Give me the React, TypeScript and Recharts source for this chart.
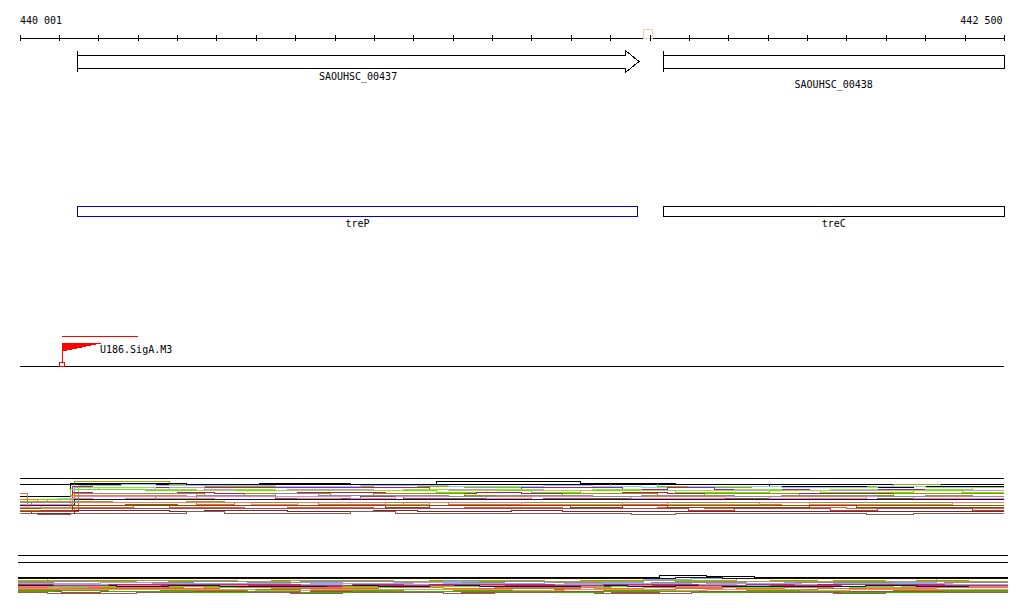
import React from 'react';
import { ComposedChart, XAxis, YAxis, Line, ReferenceLine, ReferenceArea, ReferenceDot } from 'recharts';

// ---------- view / ruler ----------
const VIEW_START = 440001;
const VIEW_END = 442500;
const rulerTicks = [
  440001, 440101, 440201, 440301, 440401, 440501, 440601, 440701, 440801, 440901,
  441001, 441101, 441201, 441301, 441401, 441501, 441601, 441701, 441801, 441901,
  442001, 442101, 442201, 442301, 442401, 442500,
];
const rulerLabels = [440001, 442500];
const cursorPositions = [441597];
const viewAnchors = [{ x: VIEW_START, a: 0 }, { x: VIEW_END, a: 1 }];

// ---------- annotation tracks ----------
const genes = [
  { name: 'SAOUHSC_00437', start: 440146, end: 441573, strand: '+', truncated: false, labelRow: 0 },
  { name: 'SAOUHSC_00438', start: 441635, end: 442500, strand: '+', truncated: true, labelRow: 1 },
];
const operonGenes = [
  { name: 'treP', start: 440146, end: 441570, color: '#0000cd' },
  { name: 'treC', start: 441635, end: 442500, color: '#000000' },
];
const promoters = [{ name: 'U186.SigA.M3', tss: 440108, regionEnd: 440301, strand: '+' }];

// ---------- expression panel 1 ----------
const positions1a = [440001, 440030, 440070, 440140, 440200, 440290, 440380, 440470, 440570, 440680, 440790, 440900, 441010, 441130, 441250, 441380, 441500, 441620, 441740, 441860, 441980, 442100, 442220, 442340, 442500];
const positions1b = [440001, 440045, 440090, 440128, 440235, 440320, 440425, 440520, 440610, 440735, 440840, 440955, 441060, 441185, 441300, 441425, 441555, 441665, 441790, 441905, 442035, 442150, 442270, 442395, 442500];
const positions1c = [440001, 440020, 440100, 440150, 440260, 440345, 440450, 440545, 440650, 440760, 440865, 440975, 441090, 441210, 441330, 441455, 441580, 441700, 441815, 441935, 442060, 442180, 442300, 442420, 442500];
const positions1d = [440001, 440055, 440110, 440135, 440185, 440270, 440400, 440495, 440590, 440705, 440815, 440930, 441040, 441160, 441275, 441400, 441530, 441645, 441765, 441880, 442005, 442125, 442245, 442370, 442500];
const grids1 = [positions1a, positions1b, positions1c, positions1d];
const colors1 = [
  '#8fb400', '#000000', '#87cefa', '#a020a0', '#c890e0', '#55ee00', '#a0d840', '#b0186e',
  '#9a9000', '#e8822a', '#a0522d', '#c8a050', '#0a1a4a', '#a8902a', '#e06a3a', '#6e6a00',
  '#d8602a', '#ff78c0', '#b83a4a', '#f08068', '#6a2c2c', '#8a5a58', '#8c8c8c', '#8b4513',
];
const s1_01 = [8.3, 8.3, 8.7, 14.8, 14.8, 14.8, 13.7, 13.3, 13.3, 13.0, 13.3, 13.0, 13.3, 13.0, 12.7, 13.0, 14.2, 13.3, 13.0, 13.3, 13.0, 13.3, 13.7, 13.3, 13.3];
const s1_02 = [10.0, 10.0, 10.0, 14.3, 14.3, 14.3, 14.0, 14.0, 14.3, 14.3, 14.0, 14.0, 14.7, 14.7, 14.7, 14.3, 14.3, 13.7, 13.7, 13.3, 13.3, 13.0, 13.3, 13.3, 13.3];
const s1_03 = [9.0, 9.0, 9.3, 13.5, 13.7, 13.5, 13.5, 13.5, 13.3, 13.3, 13.5, 13.5, 13.3, 13.3, 13.5, 13.3, 13.0, 13.3, 13.3, 13.0, 13.0, 13.3, 13.0, 13.0, 13.0];
const s1_04 = [7.0, 7.0, 7.3, 13.3, 13.0, 13.0, 12.7, 12.7, 12.7, 13.0, 12.7, 12.7, 12.3, 12.3, 12.7, 12.7, 12.3, 12.7, 12.3, 12.3, 12.0, 12.3, 12.3, 12.0, 12.0];
const s1_05 = [8.0, 8.0, 8.3, 12.7, 12.3, 12.3, 12.7, 12.3, 12.0, 12.3, 12.3, 12.0, 12.3, 12.3, 12.0, 11.7, 11.7, 12.0, 11.7, 12.0, 11.7, 11.7, 12.0, 11.7, 11.7];
const s1_06 = [8.7, 8.7, 8.7, 12.3, 12.3, 12.0, 12.0, 12.0, 11.7, 12.0, 11.7, 11.7, 11.3, 11.7, 11.3, 11.7, 11.7, 11.3, 11.3, 11.7, 11.3, 11.3, 11.7, 11.3, 11.3];
const s1_07 = [7.7, 7.7, 7.7, 13.0, 13.0, 12.3, 12.0, 12.3, 12.0, 11.7, 12.0, 12.3, 12.0, 12.3, 12.0, 12.3, 12.0, 12.0, 12.3, 12.0, 12.3, 12.0, 12.3, 12.7, 12.7];
const s1_08 = [6.7, 6.7, 6.7, 11.3, 11.0, 11.0, 11.3, 11.0, 11.0, 11.3, 11.3, 11.0, 11.0, 11.3, 11.0, 11.0, 11.3, 11.0, 10.7, 11.0, 10.7, 10.7, 11.0, 10.7, 10.7];
const s1_09 = [7.7, 7.3, 7.3, 11.0, 10.7, 10.7, 10.7, 10.3, 10.7, 10.7, 10.3, 10.7, 10.7, 10.3, 10.3, 10.7, 10.7, 10.3, 10.7, 10.7, 10.3, 10.3, 10.7, 10.7, 10.7];
const s1_10 = [8.7, 8.3, 8.3, 10.3, 10.3, 10.3, 10.0, 10.3, 10.0, 10.0, 10.3, 10.0, 9.7, 10.0, 10.0, 9.7, 10.0, 10.0, 9.7, 9.7, 10.0, 9.7, 9.7, 10.0, 10.0];
const s1_11 = [6.0, 6.0, 6.3, 9.7, 9.7, 9.3, 9.7, 9.7, 9.3, 9.3, 9.7, 9.3, 9.3, 9.0, 9.3, 9.3, 9.0, 9.3, 9.3, 9.0, 9.0, 9.3, 9.0, 9.0, 9.0];
const s1_12 = [6.7, 6.3, 6.3, 9.3, 9.0, 9.3, 9.3, 9.0, 9.0, 9.3, 9.0, 8.7, 9.0, 9.0, 8.7, 9.0, 9.0, 8.7, 8.7, 9.0, 8.7, 8.7, 9.0, 8.7, 8.7];
const s1_13 = [7.0, 7.0, 7.0, 8.7, 8.7, 8.7, 8.7, 8.7, 9.0, 9.0, 8.7, 8.7, 9.0, 9.0, 8.7, 8.7, 9.0, 9.0, 9.0, 9.0, 9.0, 9.0, 8.7, 9.0, 9.0];
const s1_14 = [6.3, 6.3, 6.3, 8.3, 8.0, 8.0, 8.3, 8.0, 8.0, 7.7, 8.0, 8.0, 7.7, 8.0, 8.0, 7.7, 7.7, 8.0, 7.7, 7.7, 8.0, 7.7, 7.7, 7.7, 7.7];
const s1_15 = [10.7, 6.0, 6.0, 7.7, 7.7, 7.7, 7.3, 7.7, 7.7, 7.3, 7.3, 7.7, 7.3, 7.3, 7.0, 7.3, 7.3, 7.0, 7.3, 7.0, 7.0, 7.3, 7.0, 7.0, 7.0];
const s1_16 = [5.7, 5.7, 5.7, 7.0, 7.0, 7.3, 7.0, 6.7, 7.0, 7.0, 6.7, 7.0, 7.0, 6.7, 6.7, 7.0, 6.7, 6.7, 7.0, 6.7, 6.7, 6.7, 7.0, 6.7, 6.7];
const s1_17 = [5.3, 5.3, 5.3, 6.3, 6.3, 6.7, 6.3, 6.3, 6.0, 6.3, 6.3, 6.0, 6.0, 6.3, 6.3, 6.0, 6.0, 6.3, 6.0, 6.0, 6.3, 6.0, 5.7, 6.0, 6.0];
const s1_18 = [7.3, 7.3, 7.3, 10.0, 10.0, 9.7, 9.7, 10.0, 9.7, 9.7, 9.3, 9.7, 9.7, 9.3, 9.7, 9.7, 9.3, 9.3, 9.7, 9.3, 9.3, 9.7, 9.3, 9.3, 9.3];
const s1_19 = [5.0, 5.0, 5.0, 6.0, 6.0, 5.7, 6.0, 6.0, 5.7, 5.7, 6.0, 5.7, 5.7, 6.0, 5.7, 5.7, 5.7, 5.3, 5.7, 5.7, 5.3, 5.7, 5.7, 5.3, 5.3];
const s1_20 = [6.3, 6.0, 6.0, 7.7, 7.7, 8.0, 7.7, 7.7, 7.3, 7.7, 7.7, 7.3, 7.7, 7.7, 7.3, 7.3, 7.7, 7.3, 7.3, 7.7, 7.3, 7.3, 7.3, 7.7, 7.7];
const s1_21 = [4.7, 4.3, 4.3, 5.3, 5.3, 5.3, 5.0, 5.3, 5.3, 5.0, 5.0, 5.3, 5.0, 5.0, 5.3, 5.0, 5.0, 4.7, 5.0, 5.0, 4.7, 4.7, 5.0, 4.7, 4.7];
const s1_22 = [4.3, 4.0, 4.0, 4.3, 4.3, 4.3, 4.7, 4.3, 4.3, 4.3, 4.7, 4.3, 4.3, 4.3, 4.3, 4.3, 4.0, 4.3, 4.3, 4.3, 4.3, 4.0, 4.3, 4.3, 4.3];
const s1_23 = [8.0, 8.0, 7.7, 10.7, 10.7, 10.7, 10.3, 10.3, 10.7, 10.3, 10.3, 10.3, 10.0, 10.3, 10.3, 10.0, 10.3, 10.3, 10.0, 10.3, 10.3, 10.0, 10.3, 10.0, 10.0];
const s1_24 = [5.0, 5.3, 5.3, 6.7, 6.7, 6.7, 6.7, 7.0, 6.7, 6.7, 6.7, 6.3, 6.7, 6.7, 6.7, 6.3, 6.7, 6.3, 6.3, 6.3, 6.7, 6.3, 6.3, 6.3, 6.3];
const series1 = [s1_01, s1_02, s1_03, s1_04, s1_05, s1_06, s1_07, s1_08, s1_09, s1_10, s1_11, s1_12,
  s1_13, s1_14, s1_15, s1_16, s1_17, s1_18, s1_19, s1_20, s1_21, s1_22, s1_23, s1_24];
const panel1Frame = [16, 14];

// ---------- expression panel 2 ----------
const positions2a = [440001, 440110, 440210, 440340, 440470, 440600, 440740, 440870, 441000, 441120, 441250, 441380, 441500, 441620, 441740, 441860, 441980, 442100, 442230, 442360, 442500];
const positions2b = [440001, 440075, 440180, 440300, 440420, 440555, 440690, 440820, 440950, 441075, 441205, 441330, 441455, 441580, 441700, 441815, 441935, 442060, 442190, 442320, 442500];
const positions2c = [440001, 440140, 440250, 440380, 440510, 440640, 440780, 440910, 441040, 441165, 441290, 441420, 441540, 441660, 441780, 441900, 442020, 442140, 442270, 442400, 442500];
const positions2d = [440001, 440090, 440230, 440360, 440445, 440580, 440715, 440845, 440975, 441100, 441230, 441355, 441480, 441600, 441720, 441840, 441960, 442080, 442210, 442340, 442500];
const grids2 = [positions2a, positions2b, positions2c, positions2d];
const colors2 = [
  '#000000', '#6cb4ee', '#8fa800', '#909080', '#b49ae8', '#88aaf0', '#b81e78', '#f07898',
  '#55ee00', '#e8782a', '#d86a3a', '#8a8a10', '#a0522d', '#8a6058', '#0c1a50', '#c03070',
  '#f0906a', '#b0a040', '#2a1010', '#40b000',
];
const s2_01 = [10.4, 10.4, 10.4, 10.4, 10.4, 10.4, 10.4, 10.4, 10.4, 10.4, 10.4, 10.4, 10.4, 10.8, 10.6, 10.4, 10.4, 10.4, 10.4, 10.4, 10.4];
const s2_02 = [10.2, 9.5, 9.5, 9.2, 9.5, 9.5, 9.2, 9.5, 9.2, 9.5, 9.5, 9.2, 9.2, 10.0, 10.2, 9.5, 9.2, 9.5, 9.2, 10.2, 10.2];
const s2_03 = [9.5, 9.75, 9.75, 9.5, 9.5, 9.75, 9.5, 9.5, 9.75, 9.5, 9.5, 9.75, 9.75, 9.5, 9.5, 9.75, 9.5, 9.5, 9.75, 9.5, 9.5];
const s2_04 = [9.25, 9.5, 9.25, 9.25, 9.5, 9.25, 9.5, 9.5, 9.25, 9.25, 9.5, 9.25, 9.0, 9.25, 9.25, 9.0, 9.25, 9.25, 9.0, 9.25, 9.25];
const s2_05 = [9.0, 9.0, 9.25, 9.0, 9.0, 8.75, 9.0, 9.0, 9.25, 9.0, 8.75, 9.0, 9.0, 8.75, 9.0, 9.0, 8.75, 9.0, 9.0, 8.75, 8.75];
const s2_06 = [8.75, 8.75, 8.75, 8.75, 9.0, 9.0, 8.75, 8.5, 8.75, 9.0, 9.0, 8.75, 8.75, 9.0, 8.75, 8.5, 8.75, 9.0, 8.75, 8.75, 8.75];
const s2_07 = [8.5, 8.5, 8.5, 8.75, 8.5, 8.5, 8.25, 8.5, 8.75, 8.5, 8.5, 8.25, 8.5, 8.5, 8.25, 8.5, 8.75, 8.5, 8.5, 8.25, 8.25];
const s2_08 = [8.25, 8.25, 8.5, 8.25, 8.5, 8.25, 8.5, 8.25, 8.25, 8.5, 8.25, 8.25, 8.5, 8.25, 8.25, 8.25, 8.5, 8.25, 8.0, 8.25, 8.25];
const s2_09 = [8.0, 8.0, 8.25, 8.25, 8.0, 8.25, 8.0, 8.0, 8.25, 8.25, 8.0, 8.0, 8.25, 8.0, 8.0, 8.0, 8.25, 8.0, 8.25, 8.0, 8.0];
const s2_10 = [8.0, 7.75, 8.0, 8.0, 8.25, 8.0, 8.0, 8.25, 8.0, 7.75, 8.0, 8.0, 7.75, 8.0, 8.0, 7.75, 8.0, 7.75, 7.75, 8.0, 8.0];
const s2_11 = [7.5, 7.75, 7.75, 7.75, 7.5, 7.75, 7.75, 7.5, 7.5, 7.75, 7.75, 7.5, 7.5, 7.75, 7.5, 7.5, 7.75, 7.5, 7.5, 7.5, 7.5];
const s2_12 = [7.25, 7.25, 7.5, 7.25, 7.25, 7.5, 7.25, 7.25, 7.0, 7.25, 7.25, 7.5, 7.25, 7.25, 7.0, 7.25, 7.25, 7.0, 7.25, 7.25, 7.25];
const s2_13 = [7.0, 6.75, 7.0, 7.0, 7.0, 6.75, 7.0, 7.0, 7.0, 6.75, 7.0, 7.0, 6.75, 7.0, 7.0, 7.0, 6.75, 7.0, 7.0, 6.75, 6.75];
const s2_14 = [6.75, 6.5, 6.5, 6.75, 6.75, 6.75, 6.5, 6.75, 6.75, 6.5, 6.75, 6.75, 6.5, 6.5, 6.75, 6.75, 6.75, 6.5, 6.75, 6.75, 6.75];
const s2_15 = [8.5, 8.5, 8.25, 8.5, 8.25, 8.25, 8.5, 8.25, 8.5, 8.25, 8.25, 8.5, 8.25, 8.5, 8.25, 8.25, 8.25, 8.5, 8.25, 8.5, 8.5];
const s2_16 = [8.75, 8.5, 8.75, 8.75, 8.75, 8.75, 8.5, 8.75, 8.5, 8.75, 8.75, 8.5, 8.75, 8.75, 8.5, 8.75, 8.5, 8.75, 8.75, 8.5, 8.5];
const s2_17 = [7.75, 7.5, 7.5, 7.5, 7.5, 7.25, 7.5, 7.5, 7.5, 7.5, 7.25, 7.5, 7.5, 7.25, 7.5, 7.5, 7.25, 7.5, 7.5, 7.5, 7.5];
const s2_18 = [9.75, 9.75, 9.5, 9.75, 9.75, 9.5, 9.75, 9.75, 9.5, 9.75, 9.75, 9.5, 9.5, 9.75, 9.75, 9.5, 9.5, 9.75, 9.5, 9.5, 9.5];
const s2_19 = [10.25, 10.25, 10.25, 10.25, 10.25, 10.25, 10.25, 10.25, 10.25, 10.25, 10.25, 10.25, 10.25, 10.5, 10.25, 10.25, 10.25, 10.25, 10.25, 10.25, 10.25];
const s2_20 = [7.0, 7.25, 7.0, 7.0, 6.75, 7.0, 6.75, 7.0, 7.0, 7.0, 7.0, 6.75, 7.0, 7.0, 6.75, 7.0, 7.0, 6.75, 6.75, 7.0, 7.0];
const series2 = [s2_01, s2_02, s2_03, s2_04, s2_05, s2_06, s2_07, s2_08, s2_09, s2_10,
  s2_11, s2_12, s2_13, s2_14, s2_15, s2_16, s2_17, s2_18, s2_19, s2_20];
const panel2Frame = [16, 14.25];

// ---------- helpers ----------
const FONT = '"DejaVu Sans Mono", "Liberation Mono", monospace';
const fmtPos = (v: number) => String(v).replace(/(\d{3})(\d{3})$/, '$1 $2');
const toPoints = (xs: number[], vs: number[]) => xs.map((x, i) => ({ x, v: vs[i] }));

const RulerTick = (props: any) => {
  const { x, y, payload } = props;
  const v = payload.value;
  const showLabel = rulerLabels.includes(v);
  const isFirst = v === rulerLabels[0];
  return (
    <g>
      <line x1={x} x2={x} y1={y - 3} y2={y + 3} stroke="#000" strokeWidth={1} />
      {showLabel && (
        <text x={isFirst ? x : x - 1.5} y={y - 14} textAnchor={isFirst ? 'start' : 'end'}
          fontFamily={FONT} fontSize={10} fill="#000">{fmtPos(v)}</text>
      )}
    </g>
  );
};

const geneShape = (gene: any) => (props: any) => {
  const { x, y, width, height } = props;
  const xe = x + width;
  const head = 13;
  const labelY = y + height + (gene.labelRow === 0 ? 12 : 20);
  const body = gene.truncated
    ? <rect x={x} y={y} width={width} height={height} fill="#fff" stroke="#000" strokeWidth={1} />
    : <polygon
        points={`${x},${y} ${xe - head},${y} ${xe - head},${y - 4} ${xe},${y + height / 2} ${xe - head},${y + height + 4} ${xe - head},${y + height} ${x},${y + height}`}
        fill="#fff" stroke="#000" strokeWidth={1} />;
  return (
    <g>
      {body}
      <line x1={x} x2={x} y1={y - 4} y2={y + height + 4} stroke="#000" strokeWidth={1} />
      <text x={x + width / 2} y={labelY} textAnchor="middle" fontFamily={FONT} fontSize={10} fill="#000">{gene.name}</text>
    </g>
  );
};

const operonShape = (g: any) => (props: any) => {
  const { x, y, width, height } = props;
  return (
    <g>
      <rect x={x} y={y} width={width} height={height} fill="none" stroke={g.color} strokeWidth={1} />
      <text x={x + width / 2} y={y + height + 11} textAnchor="middle" fontFamily={FONT} fontSize={10} fill="#000">{g.name}</text>
    </g>
  );
};

const promoterShape = (p: any) => (props: any) => {
  const { cx, cy } = props;
  const px = Math.round(cx);
  return (
    <g>
      <rect x={px - 3} y={cy - 4} width={5} height={4} fill="none" stroke="#ff0000" strokeWidth={1} />
      <line x1={px} x2={px} y1={cy - 23} y2={cy - 4} stroke="#ff0000" strokeWidth={1} />
      <polygon points={`${px},${cy - 23} ${px + 39},${cy - 23} ${px},${cy - 15}`} fill="#ff0000" stroke="#ff0000" strokeWidth={1} />
      <text x={px + 38} y={cy - 13} fontFamily={FONT} fontSize={10} fill="#000">{p.name}</text>
    </g>
  );
};

const cursorShape = (props: any) => {
  const { cx, cy } = props;
  return <rect x={cx - 5} y={cy - 9} width={9} height={9} fill="#fff" fillOpacity={0.6} stroke="#f6c9b9" strokeWidth={1} />;
};

const W = 1024;
const xDomain: [number, number] = [VIEW_START, VIEW_END];
const abs = (top: number): React.CSSProperties => ({ position: 'absolute', left: 0, top });

// invisible anchor series so every track gets its scales computed
const anchorLine = (
  <Line xAxisId="x" yAxisId="y" data={viewAnchors} dataKey="a" stroke="none" dot={false} activeDot={false}
    isAnimationActive={false} legendType="none" />
);

export default function App() {
  return (
    <div style={{ position: 'absolute', left: 0, top: 0, width: 1024, height: 611, background: '#fff', overflow: 'hidden' }}>
      <style>{`
        .recharts-surface line, .recharts-surface path, .recharts-surface rect, .recharts-surface polygon { shape-rendering: crispEdges; }
        .recharts-wrapper:focus, .recharts-surface:focus { outline: none; }
      `}</style>

      {/* Ruler */}
      <div style={abs(0)}>
        <ComposedChart width={W} height={45} data={viewAnchors} margin={{ top: 0, right: 20, bottom: 0, left: 20 }}>
          <XAxis xAxisId="x" dataKey="x" type="number" orientation="top" height={38} domain={xDomain} allowDataOverflow
            ticks={rulerTicks} interval={0} tickSize={0} tickMargin={0} tickLine={false}
            axisLine={{ stroke: '#000', strokeWidth: 1 }} tick={<RulerTick />} />
          <YAxis yAxisId="y" hide domain={[0, 1]} />
          {anchorLine}
          {cursorPositions.map((c) => (
            <ReferenceDot key={c} xAxisId="x" yAxisId="y" x={c} y={1} r={0} shape={cursorShape} ifOverflow="visible" />
          ))}
        </ComposedChart>
      </div>

      {/* Genes */}
      <div style={abs(45)}>
        <ComposedChart width={W} height={50} data={viewAnchors} margin={{ top: 10, right: 20, bottom: 27, left: 20 }}>
          <XAxis xAxisId="x" dataKey="x" type="number" hide domain={xDomain} allowDataOverflow />
          <YAxis yAxisId="y" hide domain={[0, 1]} />
          {anchorLine}
          {genes.map((g) => (
            <ReferenceArea key={g.name} xAxisId="x" yAxisId="y" x1={g.start} x2={g.end} y1={0} y2={1}
              ifOverflow="visible" shape={geneShape(g)} />
          ))}
        </ComposedChart>
      </div>

      {/* Transcription units */}
      <div style={abs(196)}>
        <ComposedChart width={W} height={40} data={viewAnchors} margin={{ top: 10, right: 20, bottom: 20, left: 20 }}>
          <XAxis xAxisId="x" dataKey="x" type="number" hide domain={xDomain} allowDataOverflow />
          <YAxis yAxisId="y" hide domain={[0, 1]} />
          {anchorLine}
          {operonGenes.map((g) => (
            <ReferenceArea key={g.name} xAxisId="x" yAxisId="y" x1={g.start} x2={g.end} y1={0} y2={1}
              ifOverflow="visible" shape={operonShape(g)} />
          ))}
        </ComposedChart>
      </div>

      {/* Promoters */}
      <div style={abs(330)}>
        <ComposedChart width={W} height={40} data={viewAnchors} margin={{ top: 6, right: 20, bottom: 4, left: 20 }}>
          <XAxis xAxisId="x" dataKey="x" type="number" hide domain={xDomain} allowDataOverflow />
          <YAxis yAxisId="y" hide domain={[0, 1]} />
          {anchorLine}
          <ReferenceLine xAxisId="x" yAxisId="y" y={0} stroke="#000" strokeWidth={1} />
          {promoters.map((p) => (
            <ReferenceLine key={p.name + 'r'} xAxisId="x" yAxisId="y"
              segment={[{ x: p.tss, y: 1 }, { x: p.regionEnd, y: 1 }]} stroke="#ff0000" strokeWidth={1} />
          ))}
          {promoters.map((p) => (
            <ReferenceDot key={p.name} xAxisId="x" yAxisId="y" x={p.tss} y={0} r={0} ifOverflow="visible" shape={promoterShape(p)} />
          ))}
        </ComposedChart>
      </div>

      {/* Expression panel 1 */}
      <div style={abs(470)}>
        <ComposedChart width={W} height={58} margin={{ top: 8, right: 20, bottom: 8, left: 20 }}>
          <XAxis xAxisId="x" dataKey="x" type="number" hide domain={xDomain} allowDataOverflow />
          <YAxis yAxisId="y" hide domain={[2, 16]} allowDataOverflow />
          {panel1Frame.map((f) => (
            <ReferenceLine key={f} xAxisId="x" yAxisId="y" y={f} stroke="#000" strokeWidth={1} />
          ))}
          {series1.map((vals, i) => (
            <Line key={i} xAxisId="x" yAxisId="y" data={toPoints(grids1[i % 4], vals)} dataKey="v" type="stepAfter"
              stroke={colors1[i]} strokeWidth={1} dot={false} activeDot={false} isAnimationActive={false} />
          ))}
        </ComposedChart>
      </div>

      {/* Expression panel 2 */}
      <div style={abs(547)}>
        <ComposedChart width={W} height={64} margin={{ top: 8, right: 16, bottom: 0, left: 18 }}>
          <XAxis xAxisId="x" dataKey="x" type="number" hide domain={xDomain} allowDataOverflow />
          <YAxis yAxisId="y" hide domain={[2, 16]} allowDataOverflow />
          {panel2Frame.map((f) => (
            <ReferenceLine key={f} xAxisId="x" yAxisId="y" y={f} stroke="#000" strokeWidth={1} />
          ))}
          {series2.map((vals, i) => (
            <Line key={i} xAxisId="x" yAxisId="y" data={toPoints(grids2[i % 4], vals)} dataKey="v" type="stepAfter"
              stroke={colors2[i]} strokeWidth={1} dot={false} activeDot={false} isAnimationActive={false} />
          ))}
        </ComposedChart>
      </div>
    </div>
  );
}
